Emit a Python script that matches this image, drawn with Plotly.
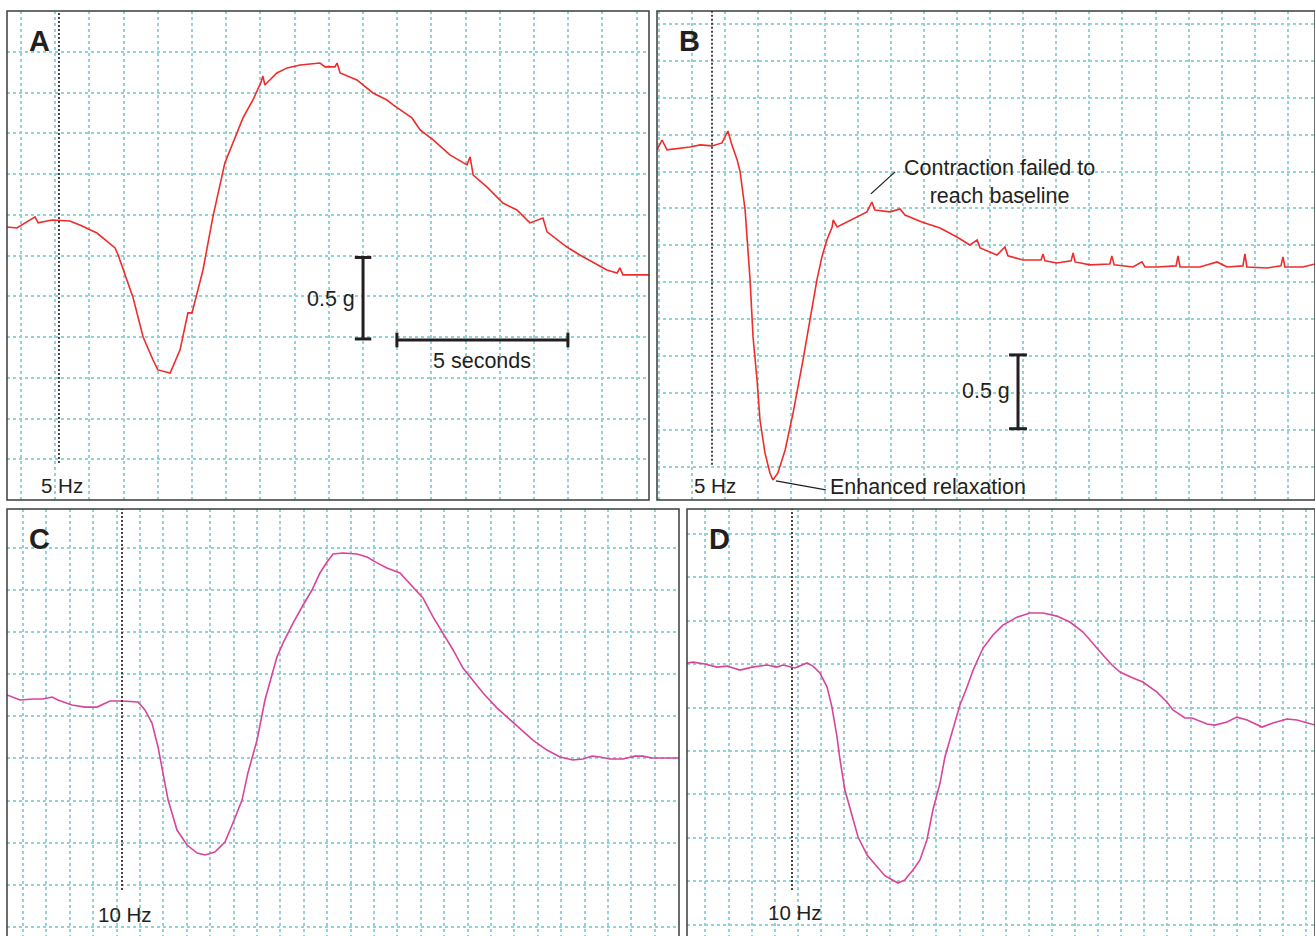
import plotly.graph_objects as go

W, H = 1315, 936

# ---------------- data (time in s from stimulus, tension in g vs. baseline) -------------
# Panel A: 5 Hz
A_t = [-1.52, -1.23, -0.70, -0.61, -0.20, 0.32, 0.61, 1.11, 1.64, 1.73, 2.16, 2.46, 2.75, 2.89,
       3.25, 3.54, 3.77, 3.89, 4.21, 4.50, 4.85, 5.09, 5.38, 5.67, 5.91, 5.96, 6.02, 6.37, 6.67,
       7.05, 7.63, 7.78, 8.07, 8.13, 8.22, 8.71, 9.01, 9.18, 9.59, 9.77, 10.32, 10.56, 10.94,
       11.43, 11.93, 12.02, 12.11, 12.51, 12.98, 13.39, 13.77, 14.15, 14.27, 14.85, 15.23,
       15.61, 16.02, 16.32, 16.40, 16.49, 17.25]
A_g = [-0.037, -0.043, 0.025, -0.012, 0.006, 0.0, -0.025, -0.074, -0.166, -0.209, -0.466,
       -0.712, -0.853, -0.914, -0.933, -0.791, -0.564, -0.564, -0.301, 0.025, 0.356, 0.485,
       0.632, 0.742, 0.853, 0.890, 0.834, 0.908, 0.939, 0.957, 0.969, 0.945, 0.945, 0.969,
       0.908, 0.865, 0.816, 0.785, 0.742, 0.712, 0.632, 0.558, 0.497, 0.405, 0.344, 0.393,
       0.282, 0.209, 0.110, 0.067, -0.012, 0.018, -0.067, -0.160, -0.209, -0.252, -0.301,
       -0.319, -0.288, -0.331, -0.331]

# Panel B: 5 Hz (enhanced relaxation)
B_t = [-1.66, -1.51, -1.36, -0.66, -0.36, 0.00, 0.30, 0.48, 0.60, 0.76, 0.85, 1.00, 1.15, 1.24,
       1.36, 1.45, 1.60, 1.75, 1.84, 1.99, 2.21, 2.45, 2.75, 2.96, 3.17, 3.32, 3.47, 3.63, 3.66,
       3.78, 4.08, 4.38, 4.68, 4.83, 4.92, 5.38, 5.68, 5.83, 6.34, 6.89, 7.40, 7.79, 8.01, 8.10,
       8.61, 8.85, 8.94, 9.40, 9.94, 10.00, 10.06, 10.42, 10.85, 10.91, 10.97, 11.42, 12.02,
       12.08, 12.15, 12.72, 12.99, 13.08, 13.44, 14.02, 14.08, 14.14, 14.74, 15.26, 15.56,
       16.04, 16.10, 16.16, 16.77, 17.19, 17.25, 17.31, 17.85, 18.22]
B_g = [-0.020, 0.047, -0.020, 0.0, 0.014, 0.007, 0.027, 0.108, 0.014, -0.088, -0.169, -0.427,
       -0.901, -1.287, -1.579, -1.850, -2.073, -2.209, -2.256, -2.209, -2.053, -1.802, -1.443,
       -1.172, -0.901, -0.745, -0.630, -0.542, -0.495, -0.542, -0.508, -0.474, -0.440, -0.373,
       -0.427, -0.440, -0.420, -0.461, -0.508, -0.549, -0.610, -0.664, -0.630, -0.684, -0.732,
       -0.678, -0.738, -0.766, -0.766, -0.725, -0.772, -0.786, -0.772, -0.718, -0.779, -0.799,
       -0.793, -0.738, -0.799, -0.813, -0.779, -0.813, -0.813, -0.806, -0.738, -0.813, -0.813,
       -0.779, -0.813, -0.806, -0.725, -0.813, -0.820, -0.806, -0.745, -0.813, -0.813, -0.793]

# Panel C: 10 Hz
C_t = [-4.91, -4.36, -3.80, -3.38, -2.99, -2.74, -2.14, -1.58, -1.07, -0.51, 0.00, 0.68, 0.98,
       1.28, 1.54, 1.71, 1.97, 2.35, 2.78, 3.21, 3.55, 3.97, 4.40, 4.74, 5.13, 5.38, 5.77, 6.11,
       6.41, 6.62, 6.88, 7.31, 7.74, 8.12, 8.46, 8.76, 9.02, 9.44, 10.04, 10.47, 10.90, 11.32,
       11.88, 12.44, 12.86, 13.29, 13.72, 14.15, 14.57, 15.00, 15.43, 16.03, 16.45, 17.01,
       17.56, 18.16, 18.72, 19.27, 19.70, 20.09, 20.43, 20.85, 21.41, 21.92, 22.26, 22.65, 23.80]
C_g = [0.030, 0.0, 0.006, 0.006, 0.018, 0.0, -0.030, -0.042, -0.042, -0.006, -0.006, -0.012,
       -0.059, -0.137, -0.279, -0.398, -0.594, -0.772, -0.861, -0.909, -0.920, -0.903, -0.843,
       -0.730, -0.594, -0.433, -0.238, 0.0, 0.160, 0.255, 0.338, 0.457, 0.564, 0.653, 0.754,
       0.819, 0.867, 0.873, 0.867, 0.849, 0.814, 0.784, 0.754, 0.671, 0.606, 0.493, 0.398,
       0.297, 0.190, 0.119, 0.042, -0.048, -0.101, -0.166, -0.238, -0.297, -0.338, -0.356,
       -0.350, -0.333, -0.338, -0.350, -0.350, -0.333, -0.333, -0.344, -0.344]

# Panel D: 10 Hz
D_t = [-4.55, -4.29, -3.77, -3.25, -2.81, -2.25, -1.73, -1.08, -0.65, -0.39, 0.13, 0.65, 0.91,
       1.21, 1.52, 1.73, 1.95, 2.08, 2.29, 2.60, 2.86, 3.25, 3.68, 4.03, 4.59, 4.89, 4.98, 5.24,
       5.54, 5.84, 6.10, 6.41, 6.62, 6.97, 7.27, 7.58, 7.84, 8.27, 8.70, 9.13, 9.74, 10.30,
       10.87, 11.47, 12.03, 12.60, 13.03, 13.46, 13.85, 14.20, 14.76, 15.19, 15.80, 16.23,
       16.49, 17.01, 17.32, 17.97, 18.31, 18.83, 19.26, 19.70, 20.35, 20.82, 21.43, 21.86, 22.64]
D_g = [0.012, 0.017, 0.006, -0.012, -0.006, -0.029, -0.012, 0.0, -0.012, 0.0, -0.017, 0.012,
       -0.006, -0.046, -0.127, -0.242, -0.415, -0.547, -0.720, -0.876, -0.991, -1.094, -1.164,
       -1.215, -1.256, -1.238, -1.221, -1.181, -1.123, -1.008, -0.835, -0.680, -0.530, -0.374,
       -0.230, -0.127, -0.029, 0.098, 0.173, 0.230, 0.276, 0.300, 0.300, 0.282, 0.248, 0.190,
       0.127, 0.058, 0.0, -0.040, -0.075, -0.098, -0.156, -0.213, -0.259, -0.305, -0.305,
       -0.340, -0.346, -0.328, -0.300, -0.317, -0.357, -0.334, -0.311, -0.317, -0.346]

panel_letters = ["A", "B", "C", "D"]
stim_labels = ["5 Hz", "5 Hz", "10 Hz", "10 Hz"]
scale_g = 0.5      # g
scale_s = 5        # seconds

# ---------------- styling / geometry ----------------
RED = "#ee2c2c"
PINK = "#d8449c"
GRID = "#8fd4d6"
INK = "#231f20"
FONT = "Liberation Sans, Arial, sans-serif"
TXT = 21.5

# panel pixel boxes: (left, top, right, bottom)
boxes = [(7, 11, 649, 500), (657, 11, 1315, 500), (7, 509, 679, 936), (687, 509, 1315, 936)]
xranges = [[-1.520, 17.251], [-1.662, 18.218], [-4.915, 23.803], [-4.545, 22.641]]
yranges = [[-1.712, 1.288], [-2.392, 0.921], [-1.401, 1.134], [-1.561, 0.899]]
xtick0 = [-1.111, -1.601, 0.769, 1.255]
ytick0 = [1.288, 0.833, 0.903, 0.755]
stim_bottom = [-1.485, -2.154, -1.128, -1.296]
stim_label_y = [-1.626, -2.297, -1.271, -1.423]

data = [(A_t, A_g, RED), (B_t, B_g, RED), (C_t, C_g, PINK), (D_t, D_g, PINK)]

fig = go.Figure()
layout = dict(
    width=W, height=H, margin=dict(l=0, r=0, t=0, b=0),
    paper_bgcolor="white", plot_bgcolor="white", showlegend=False,
    font=dict(family=FONT, size=TXT, color=INK),
)
shapes, annotations = [], []

for i, ((t, g, col), box) in enumerate(zip(data, boxes)):
    n = "" if i == 0 else str(i + 1)
    xa, ya = "x" + n, "y" + n
    l, tp, r, b = box
    layout["xaxis" + n] = dict(
        domain=[l / W, r / W], range=xranges[i], anchor=ya,
        showticklabels=False, ticks="", zeroline=False, showline=False,
        showgrid=True, gridcolor=GRID, gridwidth=2, griddash="dot",
        tick0=xtick0[i], dtick=1, fixedrange=True)
    layout["yaxis" + n] = dict(
        domain=[1 - b / H, 1 - tp / H], range=yranges[i], anchor=xa,
        showticklabels=False, ticks="", zeroline=False, showline=False,
        showgrid=True, gridcolor=GRID, gridwidth=2, griddash="dot",
        tick0=ytick0[i], dtick=0.25, fixedrange=True)
    fig.add_trace(go.Scatter(x=t, y=g, mode="lines", xaxis=xa, yaxis=ya,
                             line=dict(color=col, width=1.6), hoverinfo="skip"))
    # panel frame
    shapes.append(dict(type="rect", xref="paper", yref="paper",
                       x0=l / W, x1=r / W, y0=1 - b / H if b < H else -0.01, y1=1 - tp / H,
                       line=dict(color="#3c3c3c", width=1.5), fillcolor="rgba(0,0,0,0)"))
    # stimulus marker
    shapes.append(dict(type="line", xref=xa, yref=ya, x0=0, x1=0,
                       y0=stim_bottom[i], y1=yranges[i][1],
                       line=dict(color="#333333", width=1.8, dash="2px,2px")))
    annotations.append(dict(xref=xa, yref=ya, x=0, y=stim_label_y[i], text=stim_labels[i],
                            showarrow=False, xanchor="center", yanchor="middle", xshift=3,
                            font=dict(size=TXT - 1, color=INK)))
    annotations.append(dict(xref="paper", yref="paper", x=(l + 20) / W, y=1 - (tp + 30) / H,
                            text="<b>%s</b>" % panel_letters[i], showarrow=False,
                            xanchor="left", yanchor="middle",
                            font=dict(size=29, color=INK)))

# ---- scale bars, panel A ----
bar = dict(color=INK, width=3)
vx, vy0 = 8.89, -0.724
shapes += [
    dict(type="line", xref="x", yref="y", x0=vx, x1=vx, y0=vy0, y1=vy0 + scale_g, line=bar),
    dict(type="line", xref="x", yref="y", x0=vx - 0.24, x1=vx + 0.24, y0=vy0, y1=vy0, line=bar),
    dict(type="line", xref="x", yref="y", x0=vx - 0.24, x1=vx + 0.24, y0=vy0 + scale_g,
         y1=vy0 + scale_g, line=bar),
]
hx0, hy = 9.88, -0.730
shapes += [
    dict(type="line", xref="x", yref="y", x0=hx0, x1=hx0 + scale_s, y0=hy, y1=hy, line=bar),
    dict(type="line", xref="x", yref="y", x0=hx0, x1=hx0, y0=hy - 0.045, y1=hy + 0.045, line=bar),
    dict(type="line", xref="x", yref="y", x0=hx0 + scale_s, x1=hx0 + scale_s,
         y0=hy - 0.045, y1=hy + 0.045, line=bar),
]
annotations += [
    dict(xref="x", yref="y", x=8.71, y=-0.479, text="0.5 g", showarrow=False,
         xanchor="right", yanchor="middle", font=dict(size=TXT, color=INK)),
    dict(xref="x", yref="y", x=hx0 + scale_s / 2, y=-0.859, text="5 seconds", showarrow=False,
         xanchor="center", yanchor="middle", font=dict(size=TXT, color=INK)),
]

# ---- scale bar, panel B ----
bx, by0 = 9.245, -1.909
shapes += [
    dict(type="line", xref="x2", yref="y2", x0=bx, x1=bx, y0=by0, y1=by0 + scale_g, line=bar),
    dict(type="line", xref="x2", yref="y2", x0=bx - 0.27, x1=bx + 0.27, y0=by0, y1=by0, line=bar),
    dict(type="line", xref="x2", yref="y2", x0=bx - 0.27, x1=bx + 0.27, y0=by0 + scale_g,
         y1=by0 + scale_g, line=bar),
]
annotations.append(dict(xref="x2", yref="y2", x=9.06, y=-1.653, text="0.5 g", showarrow=False,
                        xanchor="right", yanchor="middle", font=dict(size=TXT, color=INK)))

# ---- callouts, panel B ----
shapes += [
    dict(type="line", xref="x2", yref="y2", x0=1.93, y0=-2.263, x1=3.44, y1=-2.324,
         line=dict(color=INK, width=1.3)),
    dict(type="line", xref="x2", yref="y2", x0=4.80, y0=-0.318, x1=5.53, y1=-0.169,
         line=dict(color=INK, width=1.3)),
]
annotations += [
    dict(xref="x2", yref="y2", x=3.50, y=-2.303, text="Enhanced relaxation", showarrow=False,
         xanchor="left", yanchor="middle", font=dict(size=TXT, color=INK)),
    dict(xref="x2", yref="y2", x=8.70, y=-0.237, text="Contraction failed to<br>reach baseline",
         showarrow=False, xanchor="center", yanchor="middle", align="center",
         font=dict(size=TXT, color=INK)),
]

layout["shapes"] = shapes
layout["annotations"] = annotations
fig.update_layout(**layout)
fig.write_html("out.html", config={"displayModeBar": False},
               post_script="document.body.style.margin='0';document.body.style.overflow='hidden';")
